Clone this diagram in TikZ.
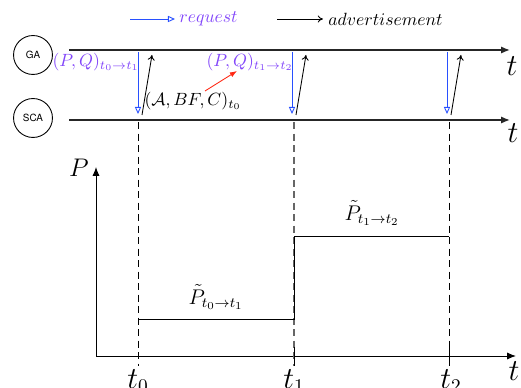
\documentclass[tikz,border=0pt]{standalone}
\usepackage{fontspec}
\newfontfamily\heros{TeX Gyre Heros}
\usetikzlibrary{arrows.meta}
\definecolor{reqblue}{RGB}{40,80,255}
\definecolor{labpurple}{RGB}{130,70,250}
\definecolor{redarr}{RGB}{255,40,20}
\begin{document}
\begin{tikzpicture}[x=0.565pt,y=-0.565pt,
  agent/.style={circle,draw,line width=0.5pt,minimum size=22pt,inner sep=0pt,font=\heros\fontsize{5.6}{6}\selectfont},
  timeaxis/.style={line width=0.8pt,draw=black!85,-{Latex[length=5pt,width=4pt]}},
  plotaxis/.style={line width=0.55pt,-{Latex[length=5pt,width=4pt]}},
  reqarrow/.style={draw=reqblue,line width=0.5pt,-{Triangle[open,length=4pt,width=3.5pt]}},
  advarrow/.style={line width=0.5pt,-{To[length=3pt,width=4pt]}},
  guide/.style={dashed,dash pattern=on 4pt off 2.5pt,line width=0.5pt},
  bigtxt/.style={font=\fontsize{16}{18}\selectfont},
  purplelab/.style={text=labpurple,inner sep=0pt},
  steps/.style={line width=0.5pt}
]
\useasboundingbox (0,0) rectangle (521,388);

% legend
\coordinate (lra) at (130,19);
\coordinate (lrb) at (175,19);
\draw[reqarrow] (lra) -- (lrb);
\node[purplelab,anchor=west] (lreq) at (179,19) {$request$};
\coordinate (laa) at (277,19);
\coordinate (lab) at (323,19);
\draw[advarrow] (laa) -- (lab);
\node[anchor=west,inner sep=0pt] (ladv) at (328,19) {$advertisement$};

% agents
\node[agent] (ga) at (33,55) {GA};
\node[agent] (sca) at (33,118) {SCA};

% time axes
\coordinate (gaS) at (69,50);
\coordinate (gaE) at (510,50);
\coordinate (scS) at (69,120);
\coordinate (scE) at (510,120);
\draw[timeaxis] (gaS) -- (gaE);
\draw[timeaxis] (scS) -- (scE);
\node[bigtxt] (tga) at (512,66) {$t$};
\node[bigtxt] (tsc) at (513,133) {$t$};

% messages
\foreach \x [count=\i] in {138,292,447}{
  \coordinate (rq\i a) at (\x,52);
  \coordinate (rq\i b) at (\x,114);
  \coordinate (ad\i a) at (\x+4,115);
  \coordinate (ad\i b) at (\x+14,55);
  \draw[reqarrow] (rq\i a) -- (rq\i b);
  \draw[advarrow] (ad\i a) -- (ad\i b);
}

\node[purplelab] (pq1) at (96,62) {$(P,Q)_{t_0\rightarrow t_1}$};
\node[purplelab] (pq2) at (250,62) {$(P,Q)_{t_1\rightarrow t_2}$};
\node[inner sep=0pt] (abc) at (193,101) {$(\mathcal{A},BF,C)_{t_0}$};
\coordinate (ra) at (205,91);
\coordinate (rb) at (237,71);
\draw[draw=redarr,line width=0.5pt,-{Latex[length=4pt,width=3pt]}] (ra) -- (rb);

% plot
\coordinate (org) at (96,356);
\coordinate (pTop) at (96,167);
\coordinate (tEnd) at (516,356);
\draw[plotaxis] (org) -- (pTop);
\draw[plotaxis] (org) -- (tEnd);
\node[font=\Large] (plab) at (79,168) {$P$};
\node[bigtxt] (tlab) at (514,371) {$t$};

% guides
\coordinate (g0a) at (138,122); \coordinate (g0b) at (138,366);
\coordinate (g1a) at (294,122); \coordinate (g1b) at (294,366);
\coordinate (g2a) at (449,122); \coordinate (g2b) at (449,366);
\draw[guide] (g0a) -- (g0b);
\draw[guide,draw=black!60,line width=0.8pt] (g1a) -- (g1b);
\draw[guide] (g2a) -- (g2b);
\coordinate (tk1a) at (294,347); \coordinate (tk1b) at (294,366);
\coordinate (tk2a) at (449,347); \coordinate (tk2b) at (449,366);
\draw[line width=0.55pt] (tk1a) -- (tk1b);
\draw[line width=0.55pt] (tk2a) -- (tk2b);

% steps
\coordinate (s0) at (138,319);
\coordinate (s1) at (294,319);
\coordinate (s2) at (294,236);
\coordinate (s3) at (449,236);
\draw[steps] (s0) -- (s1) -- (s2) -- (s3);
\node[font=\large] (pt1) at (216,297) {$\tilde{P}_{t_0\rightarrow t_1}$};
\node[font=\large] (pt2) at (372,213) {$\tilde{P}_{t_1\rightarrow t_2}$};

% tick labels
\node[bigtxt] (t0) at (138,381) {$t_0$};
\node[bigtxt] (t1) at (294,381) {$t_1$};
\node[bigtxt] (t2) at (451,381) {$t_2$};
\end{tikzpicture}
\end{document}
